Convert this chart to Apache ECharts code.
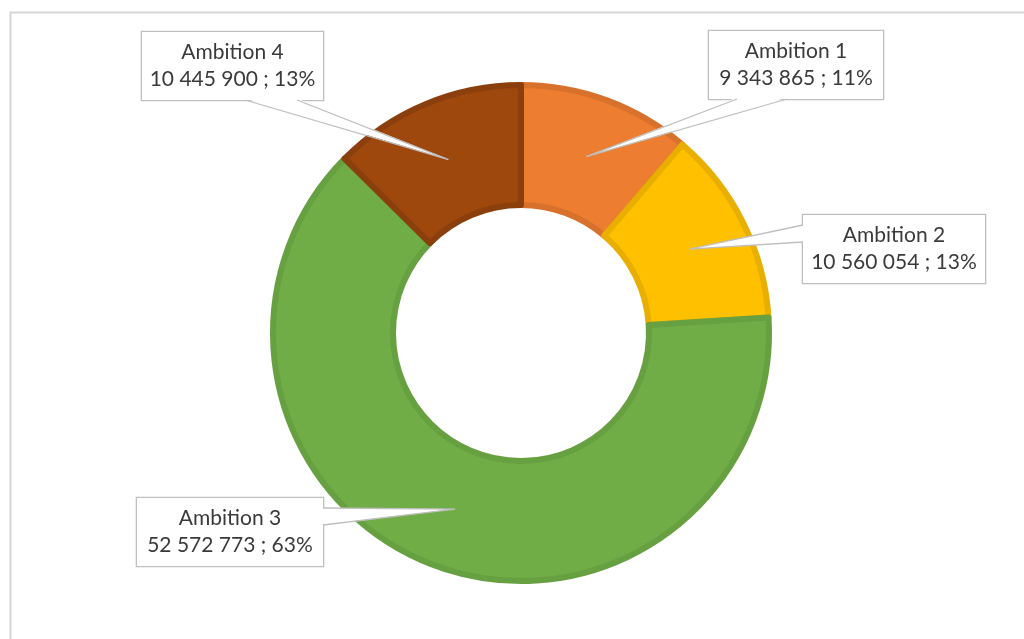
<!DOCTYPE html>
<html>
<head>
<meta charset="utf-8">
<style>
  html, body { margin: 0; padding: 0; background: #fff; }
  #chart { width: 1024px; height: 639px; }
</style>
<script src="https://cdn.jsdelivr.net/npm/echarts@6/dist/echarts.min.js"></script>
</head>
<body>
<div id="chart"></div>
<script>
// data
const names = ["Ambition 1", "Ambition 2", "Ambition 3", "Ambition 4"]
const values = [9343865, 10560054, 52572773, 10445900]
const fillColors = ["#ED7D31", "#FFC000", "#70AD47", "#9E480E"]
const edgeColors = ["#D8712C", "#E8AE00", "#66A041", "#8A3F0C"]

// layout
const cx = 521
const cy = 333
const rIn = 125
const rOut = 251
const edge = 6
// callout boxes + wedge base points
const callouts = [
  { x: 709, y: 31, w: 174, h: 68, base: [[737, 99], [787, 99]] },
  { x: 803, y: 215, w: 182, h: 68, base: [[803, 225], [803, 242]] },
  { x: 137, y: 497, w: 186, h: 70, base: [[323, 508], [323, 525]] },
  { x: 142, y: 32, w: 181, h: 68, base: [[245, 100], [297, 100]] },
]

// thousands separator with spaces
const fmt = (v) => String(v).replace(/\B(?=(\d{3})+(?!\d))/g, " ")

const chart = echarts.init(document.getElementById("chart"))

// tip of each wedge: middle of the ring at the slice mid angle
const total = values.reduce((a, b) => a + b, 0)
let acc = 0
const tips = values.map((v) => {
  const mid = ((acc + v / 2) / total) * Math.PI * 2
  acc += v
  const rm = (rIn + rOut) / 2
  return [cx + rm * Math.sin(mid), cy - rm * Math.cos(mid)]
})

const graphics = [
  {
    type: "rect",
    z: -1,
    silent: true,
    shape: { x: 10.5, y: 12.5, width: 1100, height: 700 },
    style: { fill: "none", stroke: "#D6D6D6", lineWidth: 2 },
  },
]
callouts.forEach((c, i) => {
  const [b1, b2] = c.base
  // push base slightly into the box so the box border is hidden there
  const inset = (p) => {
    if (p[1] === c.y + c.h) return [p[0], p[1] - 1.5]
    if (p[0] === c.x) return [p[0] + 1.5, p[1]]
    return [p[0] - 1.5, p[1]]
  }
  graphics.push({
    type: "polygon",
    z: 100,
    silent: true,
    shape: { points: [inset(b1), tips[i], inset(b2)] },
    style: { fill: "#fff" },
  })
  graphics.push({
    type: "polyline",
    z: 101,
    silent: true,
    shape: { points: [b1, tips[i], b2] },
    style: { fill: null, stroke: "#BFBFBF", lineWidth: 1.3 },
  })
})

const option = {
  animation: false,
  backgroundColor: "#fff",
  graphic: graphics,
  series: [
    {
      type: "pie",
      center: [cx, cy],
      radius: [rIn + edge / 2, rOut - edge / 2],
      startAngle: 90,
      clockwise: true,
      silent: true,
      percentPrecision: 0,
      data: names.map((n, i) => ({
        name: n,
        value: values[i],
        itemStyle: {
          color: fillColors[i],
          borderColor: edgeColors[i],
          borderWidth: edge,
        },
        label: { width: callouts[i].w },
      })),
      label: {
        show: true,
        position: "outside",
        formatter: (p) => p.name + "\n" + fmt(p.value) + " ; " + Math.round(p.percent) + "%",
        fontFamily: "Lato",
        fontSize: 21,
        lineHeight: 27,
        color: "#3A3A3A",
        align: "center",
        backgroundColor: "#fff",
        borderColor: "#BFBFBF",
        borderWidth: 1.3,
        padding: [7, 0],
      },
      labelLine: { show: false },
      labelLayout: (params) => {
        const c = callouts[params.dataIndex]
        return {
          x: c.x + c.w / 2,
          y: c.y + c.h / 2,
          align: "center",
          verticalAlign: "middle",
        }
      },
    },
  ],
}

chart.setOption(option)
</script>
</body>
</html>
